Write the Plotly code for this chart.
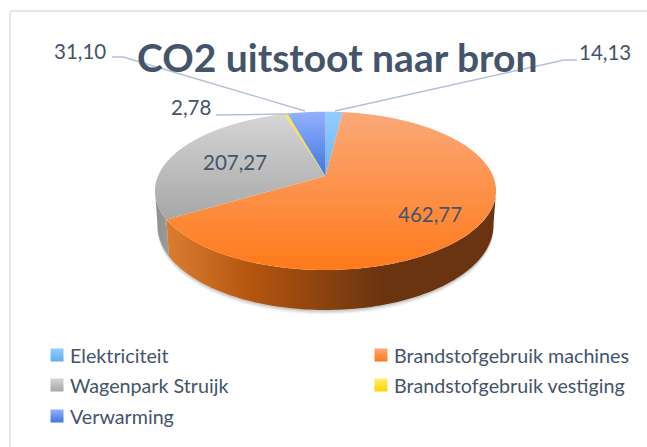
import numpy as np
import plotly.graph_objects as go

categories = ["Elektriciteit", "Brandstofgebruik machines", "Wagenpark Struijk",
              "Brandstofgebruik vestiging", "Verwarming"]
values = [14.13, 462.77, 207.27, 2.78, 31.10]
title = "CO2 uitstoot naar bron"

TXT = "#44546A"
FONT = "Lato"
face_colors = [("#93CDFB", "#6DB6F2", 111, 176), ("#FBA878", "#FF7A1A", 112, 270),
               ("#D6D6D6", "#A6A6A6", 112, 222), ("#FFE55C", "#FFD400", 112, 176),
               ("#93B2FF", "#3F75DA", 111, 176)]
wall_colors = {1: [[0, "#DA7C30"], [0.25, "#B5560F"], [0.65, "#6B3410"], [1, "#6B3410"]],
               2: [[0, "#8E8E8E"], [1, "#9C9C9C"]]}
swatch_cols = [("#93CDFB", "#5FAEEF"), ("#FBA878", "#FF7A1A"), ("#D6D6D6", "#A6A6A6"),
               ("#FFEE70", "#FFD400"), ("#93B2FF", "#3F75DA")]

CX, CY, A, C, D = 325.5, 176.0, 43.34, -0.1876, 167.5
DEPTH = 33.0


def top_xy(theta_deg):
    t = np.radians(theta_deg)
    u, v = np.sin(t), -np.cos(t)
    w = 1 + C * v
    return CX + D * u / w, (A * v + CY) / w


def bottom_xy(theta_deg):
    x, y = top_xy(theta_deg)
    v = -np.cos(np.radians(theta_deg))
    return CX + (x - CX) * 0.985, y + DEPTH + 7 * v


total = sum(values)
edges = np.concatenate([[0], np.cumsum(values) / total * 360])
fig = go.Figure()

# soft shadow under the pie
arc = np.linspace(95, 265, 100)
for off, alpha in [(4.5, 0.05), (3, 0.07), (1.5, 0.10)]:
    bx, by = bottom_xy(arc)
    fig.add_trace(go.Scatter(x=np.r_[bx, bx[::-1]], y=np.r_[by + off, by[::-1] - 20], fill="toself",
                             mode="none", fillcolor=f"rgba(0,0,0,{alpha})", hoverinfo="skip",
                             showlegend=False))

# side walls
LEFT, RIGHT = 259.2, 100.8
for i, colorscale in wall_colors.items():
    a0, a1 = max(edges[i], RIGHT), min(edges[i + 1], LEFT)
    th = np.linspace(a0, a1, 120)
    tx, ty = top_xy(th)
    bx, by = bottom_xy(th)
    fig.add_trace(go.Scatter(
        x=np.r_[tx, bx[::-1]], y=np.r_[ty, by[::-1]], fill="toself", mode="none",
        fillgradient=dict(type="horizontal", colorscale=colorscale, start=bx.min(), stop=bx.max()) if i == 1
        else dict(type="horizontal", colorscale=colorscale),
        hoverinfo="skip", showlegend=False))

# top face slices
for i, name in enumerate(categories):
    th = np.linspace(edges[i], edges[i + 1], max(3, int(edges[i + 1] - edges[i]) * 2))
    x, y = top_xy(th)
    c0, c1, s0, s1 = face_colors[i]
    fig.add_trace(go.Scatter(
        x=np.r_[CX, x, CX], y=np.r_[CY, y, CY], fill="toself", mode="none", name=name,
        fillgradient=dict(type="vertical", colorscale=[[0, c0], [1, c1]], start=s0, stop=s1),
        hovertemplate=name + ": %{text}<extra></extra>", text=[f"{values[i]:.2f}"] * (len(x) + 2),
        showlegend=False))

# leader lines
leader_x = [[112, 123, 305], [577, 564, 335], [216, 290]]
leader_y = [[57, 57, 111], [60, 60, 111], [115, 114]]
for lx, ly in zip(leader_x, leader_y):
    fig.add_trace(go.Scatter(x=lx, y=ly, mode="lines", line=dict(color="#B3C1D3", width=1.4),
                             hoverinfo="skip", showlegend=False))

# legend swatches
sw_x = [57, 381, 57, 381, 57]
sw_y = [355, 355, 385, 385, 416]
for x, y, (c0, c1) in zip(sw_x, sw_y, swatch_cols):
    fig.add_trace(go.Scatter(x=[x], y=[y], mode="markers", hoverinfo="skip", showlegend=False,
                             marker=dict(symbol="square", size=13, color=c0,
                                         gradient=dict(type="vertical", color=c1), line_width=0)))

annotations = [dict(x=336.5, y=57, text=f"<b>{title}</b>", font=dict(size=39, color=TXT, family=FONT),
                    showarrow=False, xanchor="center", yanchor="middle")]
for xt, yt, name in zip(sw_x, sw_y, categories):
    annotations.append(dict(x=xt + 10.5, y=yt, text=name, showarrow=False, xanchor="left", yanchor="middle",
                            font=dict(size=19.7, color=TXT, family=FONT)))
label_x = [605, 430, 235, 191, 80]
label_y = [52, 214, 162, 107, 51]
for v, lx, ly in zip(values, label_x, label_y):
    annotations.append(dict(x=lx, y=ly, text=f"{v:.2f}".replace(".", ","), showarrow=False,
                            xanchor="center", yanchor="middle", font=dict(size=20.5, color=TXT, family=FONT)))

fig.update_layout(
    width=647, height=447, margin=dict(l=0, r=0, t=0, b=0), autosize=False,
    paper_bgcolor="white", plot_bgcolor="white", showlegend=False, annotations=annotations,
    xaxis=dict(range=[0, 647], visible=False, fixedrange=True),
    yaxis=dict(range=[447, 0], visible=False, fixedrange=True),
    shapes=[dict(type="line", x0=10, x1=10, y0=11, y1=447, line=dict(color="#E3E8EE", width=2), layer="below"),
            dict(type="line", x0=10, x1=647, y0=11, y1=11, line=dict(color="#E3E8EE", width=2), layer="below")],
)
fig.write_html("out.html", config={"displayModeBar": False},
               post_script="document.body.style.margin='0';document.documentElement.style.overflow='hidden';")
